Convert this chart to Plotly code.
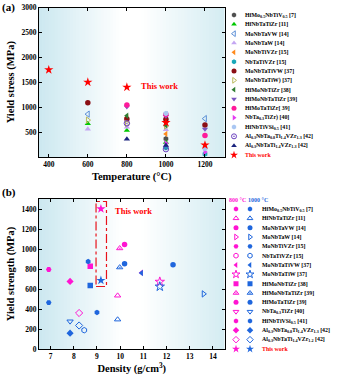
import plotly.graph_objects as go

W, H = 343, 377
FONT = "Liberation Serif"

# ---------------- (a) Yield stress vs temperature ----------------
names_a = [
    "HfMo<sub>0.5</sub>NbTiV<sub>0.5</sub> [7]", "HfNbTaTiZr [11]", "MoNbTaVW [14]", "MoNbTaW [14]",
    "MoNbTiVZr [15]", "NbTaTiVZr [15]", "MoNbTaTiVW [37]", "MoNbTaTiW) [37]", "HfMoNbTiZr [38]",
    "HfMoNbTaTiZr [39]", "HfMoTaTiZr[ 39]", "NbTa<sub>0.3</sub>TiZr) [40]", "HfNbTiVSi<sub>0.5</sub> [41]",
    "Al<sub>0.3</sub>NbTa<sub>0.8</sub>Ti<sub>1.4</sub>VZr<sub>1.3</sub> [42]",
    "Al<sub>0.3</sub>NbTaTi<sub>1.4</sub>VZr<sub>1.3</sub> [42]", "This work"]
temps_a = [
    [1000], [600, 800, 1000], [600, 1000, 1200], [600, 800, 1000],
    [800, 1000], [1000, 1200], [600, 800, 1000, 1200], [600, 800, 1000], [800, 1000],
    [800, 1000, 1200], [800, 1000, 1200], [1000, 1200], [1000, 1200],
    [800, 1000], [800, 1000], [400, 600, 800, 1000, 1200]]
stress_a = [
    [366], [670, 534, 295], [860, 843, 770], [560, 600, 551],
    [795, 464], [188, 60], [1090, 763, 760, 640], [740, 672, 624], [827, 635],
    [1007, 816, 560], [1045, 853, 430], [276, 100], [874, 170],
    [676, 158], [360, 235], [1750, 1500, 1400, 690, 240]]
colors_a = ["#505050", "#00c800", "#5b8fd6", "#c4a6f2", "#ff8a1c", "#19a7b8", "#8b0f14", "#b9b85a",
            "#2f7d32", "#7a55c0", "#ff1a9a", "#e33cf0", "#a9c6f2", "#6a3fbf", "#1a237e", "#ff0000"]
symbols_a = ["hexagon", "triangle-up", "triangle-left-open", "triangle-up", "triangle-left", "hexagon",
             "circle", "triangle-right-open", "triangle-left", "triangle-down", "circle", "triangle-right",
             "hexagon", "circle-open-dot", "triangle-up", "star"]
xticks_a = [400, 600, 800, 1000, 1200]
yticks_a = [500, 1000, 1500, 2000, 2500, 3000]

# ---------------- (b) Yield strength vs density ----------------
names_b = [
    "HfMo<sub>0.5</sub>NbTiV<sub>0.5</sub> [7]", "HfNbTaTiZr [11]", "MoNbTaVW [14]", "MoNbTaW [14]",
    "MoNbTiVZr [15]", "NbTaTiVZr [15]", "MoNbTaTiVW [37]", "MoNbTaTiW [37]", "HfMoNbTiZr [38]",
    "HfMoNbTaTiZr [39]", "HfMoTaTiZr [39]", "NbTa<sub>0.3</sub>TiZr [40]", "HfNbTiVSi<sub>0.5</sub> [41]",
    "Al<sub>0.3</sub>NbTa<sub>0.8</sub>Ti<sub>1.4</sub>VZr<sub>1.3</sub> [42]",
    "Al<sub>0.3</sub>NbTaTi<sub>1.4</sub>VZr<sub>1.2</sub> [42]", "This work"]
density_b = [9.0, 9.89, 12.28, 13.6, 6.92, 8.45, 10.92, 11.71, 8.71, 9.98, 10.19, 7.84, 8.62, 7.84, 8.23, 9.17]
ys_800 = [None, 534, None, None, 795, None, 763, 672, 827, 1007, 1045, None, None, 676, 360, 1402]
ys_1000 = [366, 295, 843, 551, 464, 188, 760, 624, 635, 816, 853, 276, 874, 158, 235, 686]
symbols_b = ["hexagon", "triangle-up-open", "circle", "triangle-right-open", "hexagon2", "hexagon-open",
             "triangle-left", "star-open", "square", "triangle-up-open-dot", "circle", "triangle-down-open",
             "hexagon", "diamond", "diamond-open", "star"]
xticks_b = [7, 8, 9, 10, 11, 12, 13, 14]
yticks_b = [0, 200, 400, 600, 800, 1000, 1200, 1400]
PINK, BLUE = "#ff14d2", "#1f66dd"
box_b = dict(x0=8.96, x1=9.41, y0=625, y1=1475)

# ---------------- layout geometry ----------------
XD = [39 / W, 224.5 / W]
YD_A = [1 - 157 / H, 1 - 7.5 / H]
YD_B = [1 - 349 / H, 1 - 199 / H]
LEG_XD = [228 / W, 1.0]
LEG_YD_A = [1 - 159.67 / H, 1 - 10.33 / H]
LEG_YD_B = [1 - 353.67 / H, 1 - 195 / H]
LA_SYM, LA_TXT = 6, 15
LB_PINK, LB_BLUE, LB_TXT = 8, 22, 32
LEG_FS = 5.9

fig = go.Figure()

def is_open(s):
    return "open" in s

def msize(s, base, star):
    return star if s.startswith("star") else base

# (a) data
for i, nm in enumerate(names_a):
    s = symbols_a[i]
    fig.add_trace(go.Scatter(
        x=temps_a[i], y=stress_a[i], mode="markers", xaxis="x", yaxis="y", showlegend=False,
        marker=dict(symbol=s, size=msize(s, 5.5, 7), color=colors_a[i],
                    line=dict(width=1 if is_open(s) else 0, color=colors_a[i]))))
# (a) legend
for i, nm in enumerate(names_a):
    s = symbols_a[i]
    fig.add_trace(go.Scatter(
        x=[LA_SYM], y=[i], mode="markers", xaxis="x3", yaxis="y3", showlegend=False, hoverinfo="skip",
        marker=dict(symbol=s, size=msize(s, 5, 6), color=colors_a[i],
                    line=dict(width=1 if is_open(s) else 0, color=colors_a[i]))))

# (b) data
for i, nm in enumerate(names_b):
    s = symbols_b[i]
    sz = msize(s, 5.5, 7)
    if ys_800[i] is not None:
        fig.add_trace(go.Scatter(
            x=[density_b[i]], y=[ys_800[i]], mode="markers", xaxis="x2", yaxis="y2", showlegend=False,
            marker=dict(symbol=s, size=sz, color=PINK, line=dict(width=1 if is_open(s) else 0, color=PINK))))
    fig.add_trace(go.Scatter(
        x=[density_b[i]], y=[ys_1000[i]], mode="markers", xaxis="x2", yaxis="y2", showlegend=False,
        marker=dict(symbol=s, size=sz, color=BLUE, line=dict(width=1 if is_open(s) else 0, color=BLUE))))
# (b) legend
for i, nm in enumerate(names_b):
    s = symbols_b[i]
    sz = msize(s, 5, 6)
    for xx, col in ((LB_PINK, PINK), (LB_BLUE, BLUE)):
        fig.add_trace(go.Scatter(
            x=[xx], y=[i], mode="markers", xaxis="x4", yaxis="y4", showlegend=False, hoverinfo="skip",
            marker=dict(symbol=s, size=sz, color=col, line=dict(width=1 if is_open(s) else 0, color=col))))

# gradient background
def grad(xa, ya, left, right):
    out = []
    N = 60
    for k in range(N):
        f = (k + 0.5) / N
        if f < 0.45:
            t, c = (0.45 - f) / 0.45, left
        elif f > 0.55:
            t, c = (f - 0.55) / 0.45, right
        else:
            t, c = 0, left
        col = "rgb(%d,%d,%d)" % tuple(round(255 + (cc - 255) * t) for cc in c)
        out.append(dict(type="rect", xref=f"{xa} domain", yref=f"{ya} domain", x0=k / N,
                        x1=min(1, (k + 1) / N + 0.004), y0=0, y1=1, fillcolor=col,
                        line=dict(width=0), layer="below"))
    return out

shapes = grad("x", "y", (204, 232, 240), (212, 236, 242)) + grad("x2", "y2", (204, 232, 240), (212, 236, 242))
shapes.append(dict(type="rect", xref="x2", yref="y2", line=dict(color="#e8121c", width=1.2, dash="dashdot"),
                   fillcolor="rgba(0,0,0,0)", **box_b))

bold = dict(family=FONT, weight="bold", color="black")
ann = []
for i, nm in enumerate(names_a):
    ann.append(dict(xref="x3", yref="y3", x=LA_TXT, y=i, text=nm, showarrow=False, xanchor="left",
                    font=dict(bold, size=LEG_FS, color="#ff0000" if nm == "This work" else "black")))
for i, nm in enumerate(names_b):
    ann.append(dict(xref="x4", yref="y4", x=LB_TXT, y=i, text=nm, showarrow=False, xanchor="left",
                    font=dict(bold, size=LEG_FS, color="#ff0000" if nm == "This work" else "black")))
ann.append(dict(xref="x4", yref="y4", x=LB_PINK + 1, y=-1, text="800 °C", showarrow=False, xanchor="center",
                font=dict(bold, size=6, color=PINK)))
ann.append(dict(xref="x4", yref="y4", x=LB_BLUE - 4, y=-1, text="1000 °C", showarrow=False, xanchor="left",
                font=dict(bold, size=6, color=BLUE)))
ann.append(dict(xref="x", yref="y", x=861, y=1430, text="This work", showarrow=False, xanchor="left",
                font=dict(bold, size=8.5, color="#ff0000")))
ann.append(dict(xref="x2", yref="y2", x=9.71, y=1385, text="This work", showarrow=False, xanchor="left",
                font=dict(bold, size=8.5, color="#ff0000")))
ann.append(dict(xref="paper", yref="paper", x=0.0, y=1 - 7 / H, text="(a)", showarrow=False, xanchor="left",
                yanchor="middle", font=dict(bold, size=11)))
ann.append(dict(xref="paper", yref="paper", x=0.0, y=1 - 192 / H, text="(b)", showarrow=False, xanchor="left",
                yanchor="middle", font=dict(bold, size=11)))

axis_common = dict(showline=True, linecolor="black", linewidth=1, mirror="ticks", ticks="inside", ticklen=3,
                   tickcolor="black", showgrid=False, zeroline=False, tickfont=dict(bold, size=7.5),
                   automargin=False, fixedrange=True)
aux = dict(visible=False, fixedrange=True, showgrid=False, zeroline=False)

fig.update_layout(
    width=W, height=H, margin=dict(l=0, r=0, t=0, b=0), paper_bgcolor="white", plot_bgcolor="white",
    font=dict(family=FONT, color="black"), showlegend=False,
    xaxis=dict(axis_common, domain=XD, anchor="y", range=[350, 1300], tickvals=xticks_a,
               title=dict(text="Temperature (°C)", font=dict(bold, size=10.5), standoff=4)),
    yaxis=dict(axis_common, domain=YD_A, anchor="x", range=[0, 3000], tickvals=yticks_a,
               title=dict(text="Yield stress (MPa)", font=dict(bold, size=10.5), standoff=4)),
    xaxis2=dict(axis_common, domain=XD, anchor="y2", range=[6.5, 14.5], tickvals=xticks_b,
                title=dict(text="Density (g/cm<sup>3</sup>)", font=dict(bold, size=10.5), standoff=4)),
    yaxis2=dict(axis_common, domain=YD_B, anchor="x2", range=[0, 1500], tickvals=yticks_b,
                title=dict(text="Yield strength (MPa)", font=dict(bold, size=10.5), standoff=4)),
    xaxis3=dict(aux, domain=LEG_XD, anchor="y3", range=[0, 115]),
    yaxis3=dict(aux, domain=LEG_YD_A, anchor="x3", range=[15.5, -0.5]),
    xaxis4=dict(aux, domain=LEG_XD, anchor="y4", range=[0, 115]),
    yaxis4=dict(aux, domain=LEG_YD_B, anchor="x4", range=[15.5, -1.5]),
    shapes=shapes, annotations=ann,
)

fig.write_html("out.html")
